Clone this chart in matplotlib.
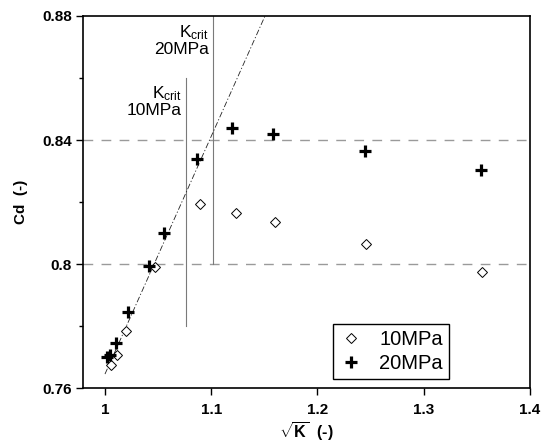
import numpy as np
import matplotlib
matplotlib.use("Agg")
import matplotlib.pyplot as plt

plt.rcParams['font.family'] = ['Liberation Sans', 'DejaVu Sans']
plt.rcParams['mathtext.fontset'] = 'custom'
plt.rcParams['mathtext.rm'] = 'Liberation Sans'
plt.rcParams['mathtext.bf'] = 'Liberation Sans:bold'
plt.rcParams['mathtext.it'] = 'Liberation Sans:italic'

# sqrt(K) and Cd values
sqrtk_10 = [1.006, 1.011, 1.020, 1.047, 1.089, 1.123, 1.160, 1.246, 1.355]
cd_10 = [0.7674, 0.7706, 0.7785, 0.7991, 0.8193, 0.8166, 0.8134, 0.8064, 0.7973]

sqrtk_20 = [1.002, 1.005, 1.010, 1.022, 1.041, 1.056, 1.087, 1.120, 1.158, 1.245, 1.354]
cd_20 = [0.7699, 0.7705, 0.7744, 0.7846, 0.7995, 0.8101, 0.8338, 0.8439, 0.8419, 0.8365, 0.8302]

# linear trend for the low-K range
fit_x = [1.0, 1.16]
fit_a, fit_b = 0.7645, 0.767

# critical K
kcrit_10 = 1.0759
kcrit_20 = 1.1019
ref_levels = [0.80, 0.84]

fig = plt.figure(figsize=(5.42, 4.48), dpi=100)
ax = fig.add_axes([0.1531, 0.1339, 0.8248, 0.8304])

for lv in ref_levels:
    ax.axhline(lv, color='#9a9a9a', lw=1.0, linestyle=(0, (7, 6)), zorder=1)

ax.plot([kcrit_10, kcrit_10], [0.78, 0.86], color='#7a7a7a', lw=0.8, zorder=2)
ax.plot([kcrit_20, kcrit_20], [0.80, 0.88], color='#7a7a7a', lw=0.8, zorder=2)

fx = np.array(fit_x)
ax.plot(fx, fit_a + fit_b * (fx - 1.0), color='#222222', lw=0.6,
        linestyle=(0, (7, 2.5, 1.5, 2.5)), zorder=2)

ax.plot(sqrtk_10, cd_10, linestyle='none', marker='D', ms=5.2,
        mfc='white', mec='black', mew=0.7, label='10MPa', zorder=3)
ax.plot(sqrtk_20, cd_20, linestyle='none', marker='+', ms=8,
        mec='black', mew=2.3, label='20MPa', zorder=4)

ax.text(kcrit_20 - 0.004, 0.8775, 'K$_{\\mathregular{crit}}$\n20MPa', ha='right', va='top',
        fontsize=12.5, linespacing=1.0)
ax.text(kcrit_10 - 0.004, 0.8580, 'K$_{\\mathregular{crit}}$\n10MPa', ha='right', va='top',
        fontsize=12.5, linespacing=1.0)

ax.set_xlim(0.9793, 1.4)
ax.set_ylim(0.76, 0.88)
ax.set_xticks([1.0, 1.1, 1.2, 1.3, 1.4])
ax.set_xticklabels(['1', '1.1', '1.2', '1.3', '1.4'])
ax.set_yticks([0.76, 0.80, 0.84, 0.88])
ax.set_yticklabels(['0.76', '0.8', '0.84', '0.88'])
ax.set_yticks([0.78, 0.82, 0.86], minor=True)
ax.tick_params(axis='both', which='major', direction='out', length=5, width=1,
               labelsize=11, pad=3)
ax.tick_params(axis='x', which='major', pad=6)
ax.tick_params(axis='y', which='minor', direction='out', length=3, width=1)
for lab in ax.get_xticklabels() + ax.get_yticklabels():
    lab.set_fontweight('bold')
for sp in ax.spines.values():
    sp.set_linewidth(1.2)

ax.set_xlabel(r'$\sqrt{\mathbf{K}}$  (-)', fontsize=11.5, fontweight='bold', labelpad=2)
ax.set_ylabel('Cd  (-)', fontsize=11, fontweight='bold', labelpad=10)

leg = ax.legend(loc='lower right', bbox_to_anchor=(0.819, 0.024), fontsize=14.5,
                frameon=True, fancybox=False, framealpha=1, edgecolor='black',
                borderaxespad=0, handlelength=1.2, handletextpad=0.8,
                borderpad=0.3, labelspacing=0.25)
leg.get_frame().set_linewidth(1.0)

fig.savefig('out.png', dpi=100)
